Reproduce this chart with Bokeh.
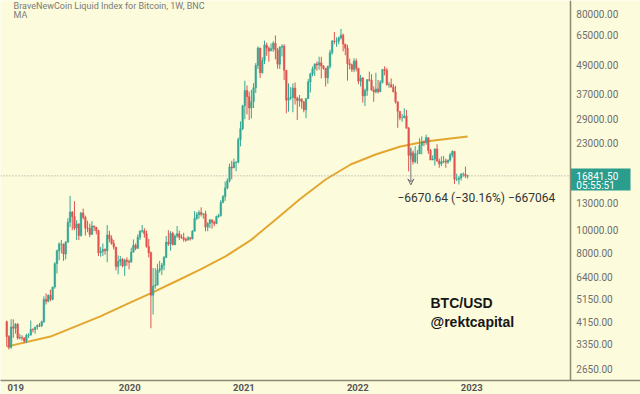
import pandas as pd
from datetime import datetime
from bokeh.plotting import figure
from bokeh.models import (ColumnDataSource, Range1d, FixedTicker, NumeralTickFormatter,
                          DatetimeTickFormatter, Label, Arrow, VeeHead)
from bokeh.embed import file_html
from bokeh.resources import INLINE

# ---------------- data (weekly candles, BraveNewCoin BTC index) ----------------
first_week = "2018-12-03"
first_open = 4150

close_2018 = [3600, 3250, 3950, 3900, 4050]
high_2018 = [4200, 3650, 4250, 4250, 4100]
low_2018 = [3280, 3180, 3200, 3560, 3700]

close_2019 = [3550, 3570, 3550, 3450, 3650, 3650, 3860, 3850, 3950, 4000, 3990, 4150,
              5150, 5050, 5350, 5150, 5800, 7250, 8200, 8750, 8750, 7950, 8900, 10800,
              11900, 11400, 10200, 10600, 9500, 11800, 11300, 10200, 10150, 9600, 10400,
              10300, 9950, 8050, 8150, 8300, 8200, 9550, 9200, 8800, 8500, 7050, 7400,
              7550, 7100, 7500, 7400, 7350]
high_2019 = [4100, 3700, 3650, 3580, 3700, 3720, 4200, 3900, 3950, 4050, 4100, 4200,
             5300, 5450, 5400, 5650, 5800, 7350, 8300, 8900, 9100, 8800, 9000, 11200,
             13900, 12000, 13200, 11000, 10700, 11900, 12300, 11500, 10950, 10650, 10900,
             10450, 10300, 10050, 8500, 8800, 8400, 10500, 9950, 9500, 9100, 8500, 7850,
             7800, 7650, 7600, 7700, 7550]
low_2019 = [3500, 3500, 3470, 3380, 3380, 3550, 3650, 3750, 3700, 3850, 3950, 3950,
            4100, 4900, 5000, 5050, 5100, 5700, 6600, 7500, 8000, 7450, 7550, 8900,
            10300, 10000, 10000, 9100, 9100, 9400, 11100, 9500, 9800, 9350, 9600,
            9900, 9600, 7800, 7750, 7800, 7900, 7350, 8900, 8700, 8300, 6800, 6550,
            7100, 7000, 6450, 7100, 6870]

close_2020 = [8100, 8650, 8400, 9350, 9900, 9950, 9650, 8550, 8050, 5350, 5850, 5900,
              6800, 6900, 7150, 7700, 8900, 8750, 9700, 8700, 9450, 9650, 9350, 9300,
              9150, 9080, 9300, 9200, 9900, 11200, 11600, 11850, 11650, 11700, 10300,
              10650, 11050, 10800, 10650, 11400, 11500, 13050, 13800, 15000, 16050, 18350,
              18150, 19150, 19200, 23850, 26500, 33000]
high_2020 = [8450, 9150, 8800, 9600, 10000, 10500, 10200, 9950, 9200, 8150, 6950, 6950,
             7250, 7450, 7300, 7800, 9450, 10000, 9900, 9850, 9600, 10400, 9950, 9600,
             9750, 9300, 9450, 9350, 10000, 12000, 11900, 12100, 12450, 11750, 12050,
             10800, 11100, 10950, 10950, 11500, 11700, 13350, 14000, 15950, 16450, 18950,
             19450, 19900, 19400, 24300, 28400, 33300]
low_2020 = [7350, 8050, 8250, 8350, 9100, 9750, 9300, 8450, 7700, 3900, 4450, 5700,
            5900, 6650, 6500, 6800, 7650, 8600, 8200, 8650, 8650, 9300, 9100, 9200,
            8950, 8950, 9150, 9050, 9150, 9900, 11000, 11150, 11400, 11150, 9900,
            9900, 10200, 10150, 10400, 10600, 11250, 11400, 12950, 13250, 14800, 15800,
            16300, 18200, 17600, 19000, 22350, 26100]

close_2021 = [38200, 36000, 32300, 34300, 39200, 48600, 57500, 45300, 50900, 59100, 57400,
              55800, 57100, 60200, 56300, 49200, 57900, 58500, 46400, 34800, 35600, 35800,
              39100, 35500, 34700, 35300, 34250, 31800, 35400, 41500, 44800, 47000, 49300,
              48800, 49900, 48300, 47300, 43200, 48200, 55000, 61500, 61200, 61300, 63300,
              65000, 59700, 57300, 49400, 48900, 46700, 50700, 47300]
high_2021 = [41950, 40100, 37800, 38500, 41000, 49700, 58300, 57500, 52600, 61700, 60500,
             58300, 60000, 61300, 64800, 57500, 58400, 59500, 59600, 46000, 40900, 39500,
             40900, 41300, 36000, 36600, 35100, 34600, 35400, 42600, 45300, 48100, 49600,
             50500, 52900, 52800, 48800, 47400, 48500, 56500, 62000, 67000, 63700, 64200,
             69000, 66000, 59300, 59200, 51900, 49500, 52100, 51900]
low_2021 = [29000, 30400, 28800, 29200, 32300, 37350, 47000, 43100, 45000, 49300, 53300,
            50400, 56700, 55400, 51500, 47100, 47000, 53000, 42200, 30700, 31200, 34900,
            31000, 33400, 28800, 32700, 32100, 31000, 29300, 35200, 37500, 43800, 43900,
            46200, 46600, 42900, 46700, 39700, 40800, 47100, 53900, 59600, 58100, 59500,
            62300, 55600, 53600, 42000, 46800, 45600, 45600, 45900]

close_2022 = [41800, 43100, 36300, 38200, 42400, 42200, 38400, 37700, 38800, 37800, 41300,
              46800, 46400, 40400, 40400, 39500, 37700, 34300, 31300, 29400, 29400, 29900,
              26600, 20500, 21000, 19300, 20800, 20800, 22600, 23300, 23200, 24300, 21500,
              19600, 19800, 21800, 19400, 18900, 19300, 19400, 19200, 19600, 20600, 21300,
              16300, 16300, 16500, 17100, 17100, 16800, 16841.5]
high_2022 = [47500, 44400, 43500, 38900, 42600, 45800, 44700, 39800, 45300, 42300, 42200,
             46800, 48200, 47400, 41500, 42900, 40700, 40000, 34300, 30600, 30500, 32200,
             31700, 26900, 21900, 21500, 22400, 21600, 24200, 24600, 23600, 25000, 24400,
             21800, 20500, 21900, 22800, 19900, 20300, 20400, 19900, 19700, 21000, 21500,
             21400, 17200, 16800, 17300, 17400, 18400, 17000]
low_2022 = [40600, 39700, 34000, 32900, 36300, 41700, 38100, 34300, 37200, 37100, 37600,
            40900, 44200, 40000, 39200, 39300, 37600, 33700, 26700, 28700, 28300, 29300,
            26600, 17600, 19700, 18800, 19000, 18900, 20800, 20700, 22400, 22700, 20800,
            19600, 19600, 18600, 19300, 18200, 18500, 19000, 18200, 18900, 19300, 20100,
            15600, 16000, 15500, 16100, 16700, 16500, 16400]

# 200-week moving average
ma_dates = ["2018-12-03", "2019-04-22", "2019-09-29", "2019-12-28", "2020-03-08",
            "2020-05-27", "2020-08-15", "2020-11-03", "2021-01-22", "2021-04-13",
            "2021-07-02", "2021-09-20", "2021-12-09", "2022-02-27", "2022-05-18",
            "2022-08-06", "2022-10-25", "2022-12-19"]
ma_values = [3270, 3600, 4370, 4950, 5450, 6110, 6860, 7770, 9060, 11080,
             13550, 16260, 18780, 20670, 22320, 23420, 24100, 24570]

price_ticks = [2650, 3350, 4150, 5150, 6400, 8000, 10000, 13000,
               23000, 29000, 37000, 49000, 65000, 80000]
year_ticks = ["2019-01-01", "2020-01-01", "2021-01-01", "2022-01-01", "2023-01-01"]
year_labels = ["019", "2020", "2021", "2022", "2023"]

last_price = 16841.50
countdown = "05:55:51"
measure_date = "2022-06-20"
measure_top = 22117.0
measure_bottom = 15446.36
measure_text = "\u22126670.64 (\u221230.16%) \u2212667064"
title_text = "BraveNewCoin Liquid Index for Bitcoin, 1W, BNC"

# ---------------- layout constants ----------------
X_START = datetime(2018, 11, 13)
X_SCALE = datetime(2023, 11, 13)   # where the price scale begins
X_BOX_END = datetime(2024, 5, 24)  # right edge of the price tag
X_END = datetime(2024, 6, 25)
TAG_UP = 1.0725     # price tag extends ~7 px above the last price
TAG_DOWN = 0.8684   # ... and ~15 px below it

UP = "#34a794"
DOWN = "#e0534f"
BG = "#fcfbdc"
AXIS = "#8a8a74"
BOX = "#2a9d8c"

# ---------------- build ----------------
closes = close_2018 + close_2019 + close_2020 + close_2021 + close_2022
highs = high_2018 + high_2019 + high_2020 + high_2021 + high_2022
lows = low_2018 + low_2019 + low_2020 + low_2021 + low_2022
opens = [first_open] + closes[:-1]
dates = pd.date_range(first_week, periods=len(closes), freq="7D")

colors = [UP if c >= o else DOWN for o, c in zip(opens, closes)]
src = ColumnDataSource(dict(
    x=dates, open=opens, close=closes, high=highs, low=lows,
    top=[max(o, c) for o, c in zip(opens, closes)],
    bottom=[min(o, c) for o, c in zip(opens, closes)],
    color=colors,
))


def ms(d):
    return pd.Timestamp(d).value / 1e6


p = figure(width=640, height=394, x_axis_type="datetime", y_axis_type="log",
           y_axis_location="right",
           x_range=Range1d(X_START, X_END),
           y_range=Range1d(2362, 90650),
           output_backend="svg", toolbar_location=None,
           min_border_left=0, min_border_top=0, min_border_right=0, min_border_bottom=14)

p.background_fill_color = BG
p.border_fill_color = BG
p.outline_line_color = None
p.grid.visible = False

# moving average
p.line(pd.to_datetime(ma_dates), ma_values, line_color="#e3a730", line_width=2)

# candles
p.segment(x0="x", y0="low", x1="x", y1="high", line_color="color", line_width=1, source=src)
p.vbar(x="x", width=5 * 86400000, top="top", bottom="bottom",
       fill_color="color", line_color="color", line_width=0.5, source=src)

# last price dotted line (stops at the price scale)
p.segment(x0=[X_START], y0=[last_price], x1=[X_SCALE], y1=[last_price],
          line_color="#9a9a9a", line_dash="1 2", line_width=1)

# price tag on the scale
p.quad(left=[X_SCALE], right=[X_BOX_END], top=[last_price * TAG_UP],
       bottom=[last_price * TAG_DOWN], fill_color=BOX, line_color=None)
p.add_layout(Label(x=ms(X_SCALE), y=last_price, x_offset=6, y_offset=0,
                   text=f"{last_price:.2f}", text_align="left", text_baseline="middle",
                   text_font="Roboto", text_font_size="10px", text_color="white"))
p.add_layout(Label(x=ms(X_SCALE), y=last_price, x_offset=6, y_offset=-10,
                   text=countdown, text_align="left", text_baseline="middle",
                   text_font="Roboto", text_font_size="10px", text_color="white"))

# measurement tool
mx = ms(measure_date)
p.add_layout(Arrow(end=VeeHead(size=6, line_color="#6f6f6f", line_width=1, fill_color=None),
                   x_start=mx, y_start=measure_top, x_end=mx, y_end=measure_bottom,
                   line_color="#7a7a7a", line_width=1))
p.add_layout(Label(x=ms("2022-05-08"), y=13680, text=measure_text, text_align="left",
                   text_baseline="middle", text_font="Roboto", text_font_size="12px",
                   text_color="#333333"))

# header texts
p.add_layout(Label(x=ms("2018-12-25"), y=86000, text=title_text, text_align="left",
                   text_baseline="middle", text_font="Roboto", text_font_size="9px",
                   text_color="#7a7a7a"))
p.add_layout(Label(x=ms("2018-12-25"), y=78500, text="MA", text_align="left",
                   text_baseline="middle", text_font="Roboto", text_font_size="9px",
                   text_color="#7a7a7a"))

# watermark
p.add_layout(Label(x=ms("2022-08-22"), y=4960, text="BTC/USD", text_align="left",
                   text_baseline="middle", text_font="Liberation Sans", text_font_style="bold",
                   text_font_size="14px", text_color="#161616"))
p.add_layout(Label(x=ms("2022-08-22"), y=4150, text="@rektcapital", text_align="left",
                   text_baseline="middle", text_font="Liberation Sans", text_font_style="bold",
                   text_font_size="14px", text_color="#161616"))

# axes
ya = p.yaxis[0]
ya.fixed_location = ms(X_SCALE)
ya.ticker = FixedTicker(ticks=price_ticks, minor_ticks=[])
ya.formatter = NumeralTickFormatter(format="0.00")
ya.major_tick_line_color = None
ya.minor_tick_line_color = None
ya.major_tick_out = 0
ya.major_tick_in = 0
ya.axis_line_color = AXIS
ya.axis_line_width = 1.5
ya.major_label_text_color = "#6e6e6e"
ya.major_label_text_font = "Roboto"
ya.major_label_text_font_size = "10px"
ya.major_label_standoff = 6

xa = p.xaxis[0]
tick_ms = [ms(d) for d in year_ticks]
xa.ticker = FixedTicker(ticks=tick_ms, minor_ticks=[])
xa.formatter = DatetimeTickFormatter(years="%Y", months="%Y", days="%Y")
xa.major_label_overrides = {t: lab for t, lab in zip(tick_ms, year_labels)}
xa.major_tick_line_color = None
xa.minor_tick_line_color = None
xa.major_tick_out = 0
xa.major_tick_in = 0
xa.axis_line_color = AXIS
xa.axis_line_width = 1.5
xa.major_label_text_color = "#555555"
xa.major_label_text_font = "Roboto"
xa.major_label_text_font_style = "bold"
xa.major_label_text_font_size = "9.5px"
xa.major_label_standoff = 3

open("out.html", "w").write(file_html(p, INLINE))
